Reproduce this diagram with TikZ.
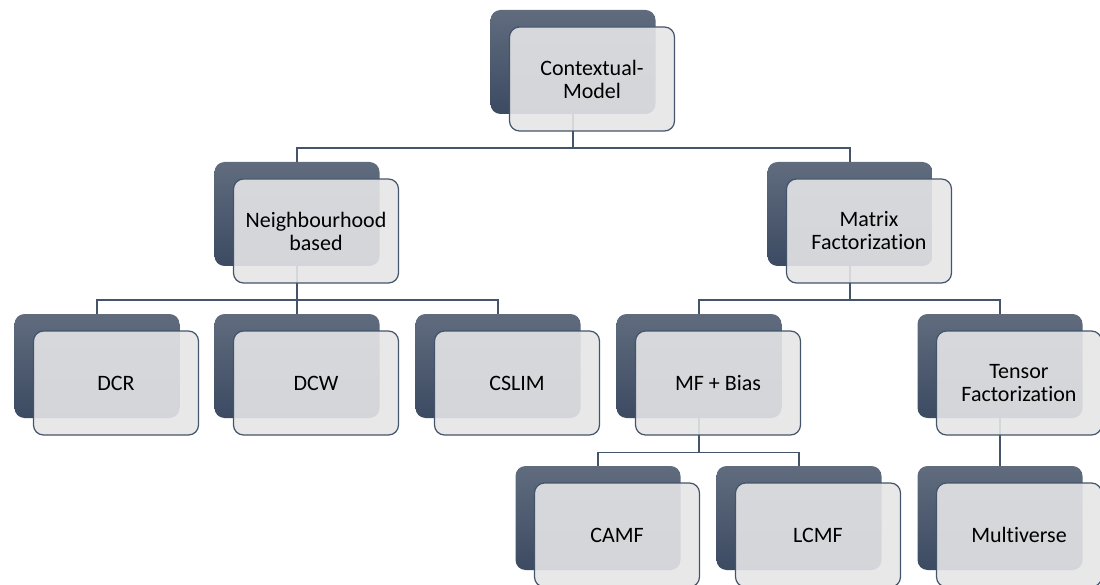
\documentclass[tikz,border=0pt]{standalone}
\usepackage{fontspec}
\setmainfont{Carlito}[Ligatures=NoCommon]
\usetikzlibrary{backgrounds}

% back card + front card with text, #1 name, #2 x, #3 y (back card centre), #4 text
\newcommand{\smartbox}[4]{%
    \node[backbox] (#1-b) at (#2,#3) {};
    \node[frontbox] (#1) at (#2+\dx,#3+\dy) {#4};
}

\begin{document}
\begin{tikzpicture}[%
        % one unit is one pixel of the reference, y runs downwards
        x=1pt,y=-1pt,
        backbox/.style={rounded corners=10pt,minimum width=165pt,minimum height=104pt,
            inner sep=0pt,top color=backtop,bottom color=backbottom},
        frontbox/.style={rounded corners=10pt,minimum width=165pt,minimum height=104pt,
            inner sep=0pt,draw=linecolor,line width=1.2pt,fill=frontcolor,
            fill opacity=0.9,text opacity=1,align=center,
            font=\fontsize{22}{23}\selectfont},
        link/.style={draw=linecolor,line width=1.4pt}
        ]

        \definecolor{backtop}{RGB}{96, 108, 126}
        \definecolor{backbottom}{RGB}{60, 74, 98}
        \definecolor{frontcolor}{RGB}{229, 229, 231}
        \definecolor{linecolor}{RGB}{68, 84, 106}

        \def\dx{19};  % front card shift right
        \def\dy{17};  % front card shift down
        \def\bus{34};  % drop from back card to the bus line

        \useasboundingbox (0,0) rectangle (1100,585);

        % top level
        \smartbox{ctx}{573}{62}{Contextual-\\Model}

        % second level
        \smartbox{nbh}{297}{214}{Neighbourhood\\based}
        \smartbox{mtx}{850}{214}{Matrix\\Factorization}

        % third level
        \smartbox{dcr}{97}{366}{DCR}
        \smartbox{dcw}{297}{366}{DCW}
        \smartbox{csl}{498}{366}{CSLIM}
        \smartbox{mfb}{699}{366}{MF + Bias}
        \smartbox{tsr}{1000}{366}{Tensor\\Factorization}

        % fourth level
        \smartbox{camf}{598}{518}{CAMF}
        \smartbox{lcmf}{799}{518}{LCMF}
        \smartbox{mvs}{1000}{518}{Multiverse}

        % draw tree lines behind the cards
        \begin{scope}[on background layer]
            \draw[link] (ctx-b.south) -- ++(0,\bus) -| (nbh-b.north);
            \draw[link] (ctx-b.south) -- ++(0,\bus) -| (mtx-b.north);
            \draw[link] (nbh-b.south) -- ++(0,\bus) -| (dcr-b.north);
            \draw[link] (nbh-b.south) -- (dcw-b.north);
            \draw[link] (nbh-b.south) -- ++(0,\bus) -| (csl-b.north);
            \draw[link] (mtx-b.south) -- ++(0,\bus) -| (mfb-b.north);
            \draw[link] (mtx-b.south) -- ++(0,\bus) -| (tsr-b.north);
            \draw[link] (mfb-b.south) -- ++(0,\bus) -| (camf-b.north);
            \draw[link] (mfb-b.south) -- ++(0,\bus) -| (lcmf-b.north);
            \draw[link] (tsr-b.south) -- (mvs-b.north);
        \end{scope}

    \end{tikzpicture}
\end{document}
